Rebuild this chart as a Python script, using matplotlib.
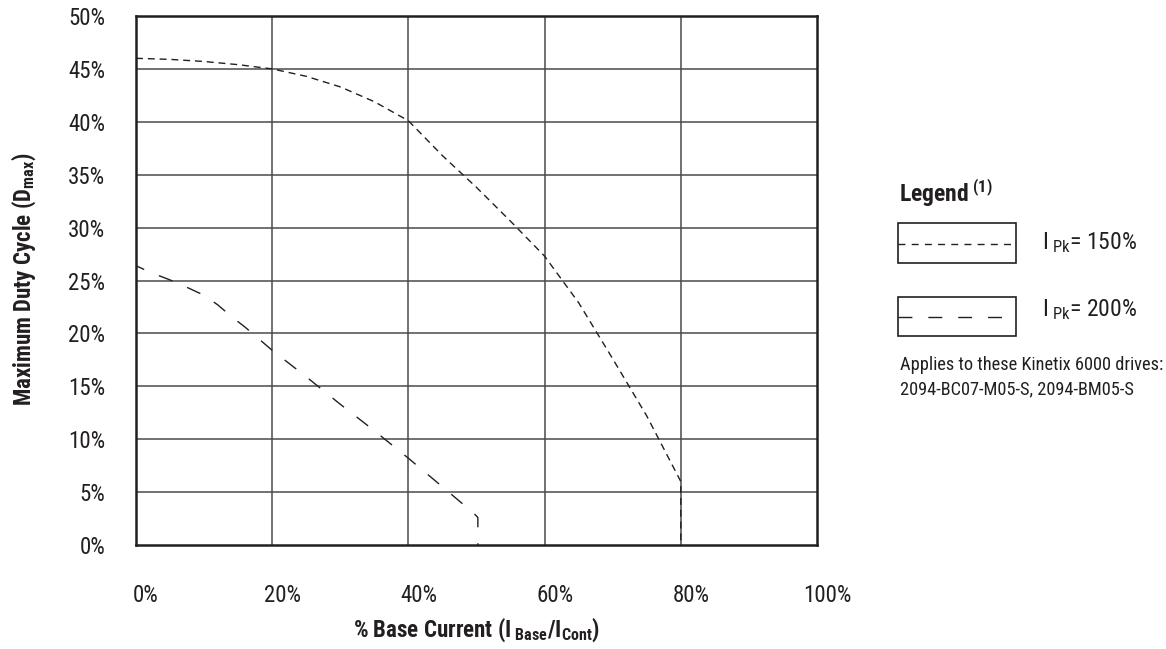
import matplotlib
matplotlib.use("Agg")
import matplotlib.pyplot as plt
from matplotlib import font_manager
from matplotlib.transforms import ScaledTranslation
from matplotlib.patches import Rectangle
from matplotlib.lines import Line2D

# ---------------- data ----------------
x_ticks = [0, 20, 40, 60, 80, 100]
x_tick_labels = ["0%", "20%", "40%", "60%", "80%", "100%"]
y_ticks = [0, 5, 10, 15, 20, 25, 30, 35, 40, 45, 50]
y_tick_labels = ["0%", "5%", "10%", "15%", "20%", "25%", "30%", "35%", "40%", "45%", "50%"]
y_mark_ticks = [0, 5, 10, 15, 25, 35, 45]

ipk150_x = [0, 5, 10, 15, 20, 25, 30, 35, 40, 45, 50, 55, 60, 65, 70, 75, 80, 80]
ipk150_y = [46.0, 45.9, 45.7, 45.4, 45.0, 44.3, 43.3, 41.9, 40.1, 36.8, 33.8, 30.6, 27.3, 22.9, 17.6, 12.2, 6.0, 0]

ipk200_x = [0, 2, 4, 6, 8, 10, 12, 14, 16, 18, 20, 25, 30, 35, 40, 45, 49.6, 50.2, 50.2]
ipk200_y = [26.4, 25.8, 25.3, 24.8, 24.2, 23.6, 22.7, 21.6, 20.6, 19.5, 18.4, 15.9, 13.3, 10.8, 8.2, 5.5, 3.0, 2.6, 0]

legend_labels = [r"I$_{\ \mathrm{Pk}}$= 150%", r"I$_{\ \mathrm{Pk}}$= 200%"]
note_text = "Applies to these Kinetix 6000 drives:\n2094-BC07-M05-S, 2094-BM05-S"

# ---------------- fonts ----------------
ttf = font_manager.fontManager.ttflist
names = {f.name for f in ttf}
FONT = None
for cand in ["Roboto Condensed", "Liberation Sans Narrow", "Open Sans Condensed",
             "DejaVu Sans Condensed", "Noto Sans Condensed"]:
    if cand in names:
        FONT = cand
        break
if FONT is None:
    FONT = "Lato" if "Lato" in names else "DejaVu Sans"

plt.rcParams["font.family"] = [FONT, "DejaVu Sans"]
plt.rcParams["mathtext.fontset"] = "custom"
plt.rcParams["mathtext.rm"] = FONT
plt.rcParams["mathtext.it"] = FONT
plt.rcParams["mathtext.bf"] = FONT + ":bold"

INK = "#231f20"
GRID = "#4a4a4a"

W, H = 1166, 649
fig = plt.figure(figsize=(W / 100, H / 100), dpi=100)
L, R, T, B = 136, 817, 16, 545
ax = fig.add_axes([L / W, 1 - B / H, (R - L) / W, (B - T) / H])
ax.set_xlim(0, 100)
ax.set_ylim(0, 50)

# grid
for gx in [20, 40, 60, 80]:
    ax.axvline(gx, color=GRID, lw=1.1, zorder=1)
for gy in y_ticks[1:-1]:
    ax.axhline(gy, color=GRID, lw=1.1, zorder=1)

for s in ax.spines.values():
    s.set_color(INK)
    s.set_linewidth(1.8)

# curves
ax.plot(ipk150_x, ipk150_y, color=INK, lw=1.0, zorder=3, linestyle=(0, (5, 3.5)))
ax.plot(ipk200_x, ipk200_y, color=INK, lw=1.0, zorder=3, linestyle=(4, (10.5, 11.5)))

# ticks
ax.set_xticks(x_ticks)
ax.set_xticklabels(x_tick_labels, fontsize=16.5, color=INK)
ax.tick_params(axis="x", length=0, pad=28)
off = ScaledTranslation(10 / 100, 0, fig.dpi_scale_trans)
for lab in ax.get_xticklabels():
    lab.set_transform(lab.get_transform() + off)

ax.set_yticks(y_ticks)
ax.set_yticklabels(y_tick_labels, fontsize=16.5, color=INK)
ax.tick_params(axis="y", length=0, pad=22)
ax.set_yticks(y_mark_ticks, minor=True)
ax.tick_params(axis="y", which="minor", length=7.5, width=2.2, color=INK, direction="out")

# axis labels
fig.text(24 / W, 1 - 279 / H, r"Maximum Duty Cycle (D$_{\mathbf{max}}$)", rotation=90,
         ha="center", va="center", fontsize=16.5, fontweight="bold", color=INK)
fig.text(476 / W, 1 - 630 / H, r"% Base Current (I$_{\mathbf{\ Base}}$/I$_{\mathbf{Cont}}$)",
         ha="center", va="center", fontsize=16.5, fontweight="bold", color=INK)

# legend
fig.text(899 / W, 1 - 193 / H, r"Legend$^{\mathbf{\ (1)}}$", ha="left", va="center",
         fontsize=17, fontweight="bold", color=INK)
boxes = [(223, 263, 244), (297, 336, 317)]
dashes = [(5, 4.5), (10, 11.5)]
text_y = [243, 310]
for (yt, yb, yl), d, lab, ty in zip(boxes, dashes, legend_labels, text_y):
    fig.patches.append(Rectangle((898 / W, 1 - yb / H), (1016 - 898) / W, (yb - yt) / H,
                                 transform=fig.transFigure, fill=False, ec=INK, lw=1.2))
    ln = Line2D([898 / W, 1016 / W], [1 - yl / H, 1 - yl / H], transform=fig.transFigure,
                color=INK, lw=1.0, linestyle=(0, d))
    fig.lines.append(ln)
    fig.text(1042 / W, 1 - ty / H, lab, ha="left", va="center", fontsize=17, color=INK)

fig.text(900 / W, 1 - 377 / H, note_text, ha="left", va="center", fontsize=13.2,
         color=INK, linespacing=1.5)

fig.savefig("out.png", dpi=100)
